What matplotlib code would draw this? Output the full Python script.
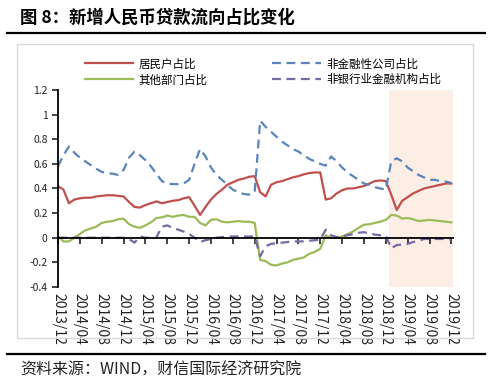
import numpy as np
import matplotlib
matplotlib.use("Agg")
import matplotlib.pyplot as plt
from matplotlib.lines import Line2D
from matplotlib.patches import Rectangle

plt.rcParams['font.family'] = ['Noto Sans CJK SC', 'DejaVu Sans']

# 月度数据 2013/12 - 2019/12
tick_labels = ['2013/12', '2014/04', '2014/08', '2014/12', '2015/04', '2015/08',
               '2015/12', '2016/04', '2016/08', '2016/12', '2017/04', '2017/08',
               '2017/12', '2018/04', '2018/08', '2018/12', '2019/04', '2019/08',
               '2019/12']

jumin = [0.42, 0.39, 0.28, 0.31, 0.32, 0.325, 0.325, 0.335, 0.34, 0.345, 0.345, 0.34, 0.335,
         0.29, 0.25, 0.245, 0.265, 0.28, 0.295, 0.28, 0.29, 0.30, 0.305, 0.32, 0.33,
         0.26, 0.185, 0.25, 0.31, 0.355, 0.39, 0.43, 0.45, 0.47, 0.48, 0.495, 0.50,
         0.37, 0.335, 0.43, 0.45, 0.46, 0.475, 0.49, 0.50, 0.515, 0.525, 0.53, 0.53,
         0.31, 0.32, 0.36, 0.385, 0.40, 0.40, 0.41, 0.42, 0.44, 0.46, 0.465, 0.46,
         0.35, 0.225, 0.30, 0.33, 0.36, 0.38, 0.40, 0.41, 0.42, 0.43, 0.44, 0.44]

feijinrong = [0.58, 0.67, 0.74, 0.69, 0.65, 0.62, 0.59, 0.56, 0.535, 0.525, 0.52, 0.51, 0.55,
              0.65, 0.70, 0.67, 0.63, 0.58, 0.52, 0.46, 0.44, 0.435, 0.435, 0.44, 0.47,
              0.60, 0.72, 0.66, 0.57, 0.51, 0.47, 0.43, 0.39, 0.37, 0.355, 0.35, 0.37,
              0.95, 0.90, 0.86, 0.82, 0.78, 0.75, 0.72, 0.70, 0.67, 0.64, 0.62, 0.60,
              0.585, 0.66, 0.62, 0.57, 0.53, 0.50, 0.47, 0.44, 0.43, 0.41, 0.40, 0.39,
              0.62, 0.645, 0.62, 0.57, 0.54, 0.51, 0.49, 0.47, 0.47, 0.46, 0.455, 0.445]

qita = [0.01, -0.03, -0.03, 0.0, 0.03, 0.06, 0.075, 0.09, 0.12, 0.13, 0.135, 0.15, 0.155,
        0.11, 0.09, 0.08, 0.10, 0.125, 0.16, 0.165, 0.18, 0.17, 0.18, 0.185, 0.17,
        0.17, 0.12, 0.10, 0.145, 0.15, 0.13, 0.125, 0.13, 0.135, 0.13, 0.13, 0.12,
        -0.18, -0.19, -0.22, -0.225, -0.21, -0.20, -0.18, -0.17, -0.16, -0.13, -0.115, -0.09,
        0.02, 0.0, 0.0, 0.01, 0.03, 0.05, 0.08, 0.105, 0.11, 0.12, 0.13, 0.145,
        0.185, 0.18, 0.155, 0.16, 0.15, 0.135, 0.14, 0.145, 0.14, 0.135, 0.13, 0.125]

feiyinhang = [0.0, 0.0, 0.0, 0.0, 0.0, 0.0, 0.0, 0.0, 0.0, 0.0, 0.0, 0.0, 0.0,
              -0.01, -0.04, 0.01, 0.0, 0.0, 0.0, 0.09, 0.10, 0.08, 0.065, 0.05, 0.03,
              0.0, -0.035, -0.02, -0.01, 0.0, 0.005, 0.01, 0.01, 0.01, 0.01, 0.01, 0.01,
              -0.15, -0.07, -0.05, -0.045, -0.04, -0.035, -0.03, -0.03, -0.03, -0.025, -0.02, -0.015,
              0.065, 0.02, 0.005, 0.01, 0.02, 0.03, 0.04, 0.045, 0.035, 0.025, 0.02, 0.015,
              -0.085, -0.06, -0.055, -0.05, -0.035, -0.025, -0.01, -0.01, -0.01, -0.01, -0.01, -0.015]

x = np.arange(len(jumin))

fig = plt.figure(figsize=(5, 3.91), dpi=100)
ax = fig.add_axes([0.116, 0.266, 0.79, 0.504])

# 外框、标题线
fig.patches.append(Rectangle((0.034, 0.1355), 0.912, 0.752, transform=fig.transFigure,
                             fill=False, edgecolor='#d9d9d9', lw=1))
fig.add_artist(Line2D([0.014, 0.97], [0.9156, 0.9156], color='black', lw=1.6))
fig.add_artist(Line2D([0.014, 0.97], [0.0946, 0.0946], color='black', lw=1.6))
fig.text(0.04, 0.955, '图 8：新增人民币贷款流向占比变化', fontsize=12.5, fontweight='bold',
         va='center', ha='left')
fig.text(0.04, 0.054, '资料来源：WIND，财信国际经济研究院', fontsize=11.5, style='italic',
         va='center', ha='left', color='#222222')

ax.axvspan(60.5, 72.3, color='#fdeee5', lw=0, zorder=0)

l1, = ax.plot(x, jumin, color='#c0504d', lw=1.6, label='居民户占比')
l2, = ax.plot(x, feijinrong, color='#5b84bb', lw=1.6, dashes=(4, 2.5), label='非金融性公司占比')
l3, = ax.plot(x, qita, color='#9bbb59', lw=1.6, label='其他部门占比')
l4, = ax.plot(x, feiyinhang, color='#7b68a6', lw=1.6, dashes=(4, 2.5), label='非银行业金融机构占比')

ax.set_xlim(0, 72.3)
ax.set_ylim(-0.4, 1.2)
ax.set_yticks(np.arange(-0.4, 1.21, 0.2))
ax.set_yticklabels(['-0.4', '-0.2', '0', '0.2', '0.4', '0.6', '0.8', '1', '1.2'])
ax.set_xticks(np.arange(0, len(jumin), 4))
ax.set_xticklabels(tick_labels, fontsize=7.5, family='DejaVu Sans')

ax.spines['top'].set_visible(False)
ax.spines['right'].set_visible(False)
ax.spines['bottom'].set_position(('data', 0))
ax.spines['left'].set_linewidth(1.3)
ax.spines['bottom'].set_linewidth(1.3)
ax.tick_params(axis='y', direction='out', length=4, width=1.2, labelsize=7.5, colors='#222222')
ax.tick_params(axis='x', direction='out', length=4, width=1.2, pad=36, colors='#222222',
               labelrotation=-90)

fig.legend([l1, l3, l2, l4], [l.get_label() for l in (l1, l3, l2, l4)],
           loc='upper left', bbox_to_anchor=(0.16, 0.865), ncol=2, frameon=False,
           fontsize=8.3, handlelength=4.2, columnspacing=5.6, labelspacing=0.25,
           handletextpad=0.5, borderaxespad=0)

fig.savefig('out.png', dpi=100)
